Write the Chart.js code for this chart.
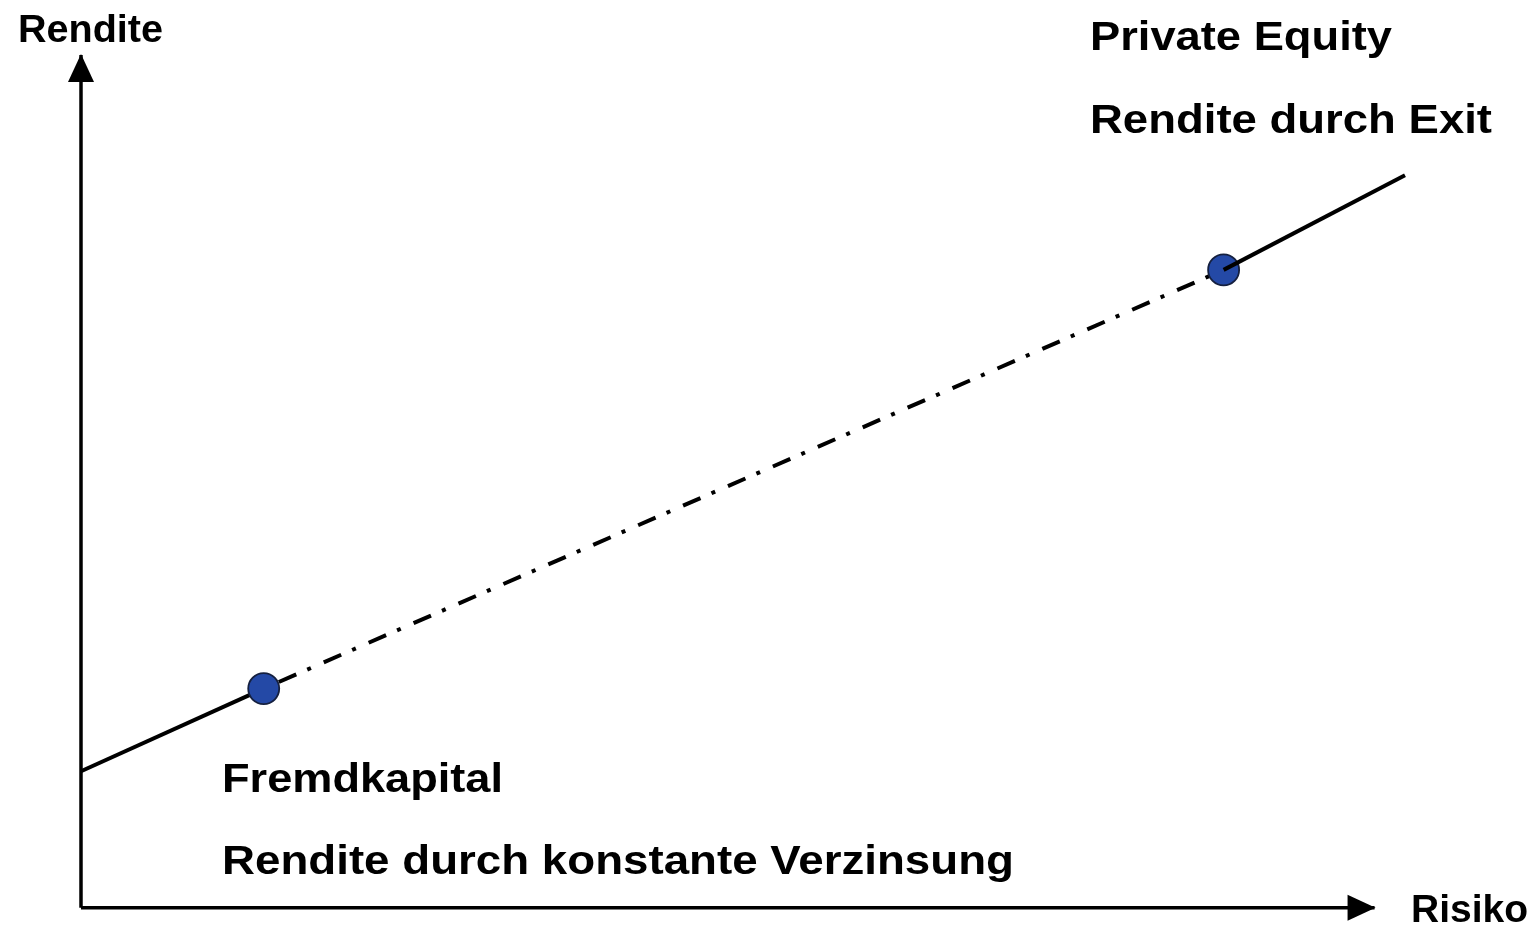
<!DOCTYPE html>
<html><head><meta charset="utf-8">
<script src="https://cdn.jsdelivr.net/npm/chart.js@4/dist/chart.umd.min.js"></script>
<style>html,body{margin:0;padding:0;background:#fff;} #wrap{width:1535px;height:925px;}</style>
</head><body><div id="wrap"><canvas id="c" width="1535" height="925"></canvas></div>
<script>
// ---- Data (Risiko = x, Rendite = y, arbitrary units 0..10) ----
const lineRisk   = [0, 1.38, 8.63, 10];      // start on y-axis, Fremdkapital, Private Equity, line end
const lineReturn = [1.6, 2.57, 7.48, 8.59];
const pointNames  = ['Fremdkapital', 'Private Equity'];
const pointRisk   = [1.38, 8.63];
const pointReturn = [2.57, 7.48];
const axisTitles  = ['Rendite', 'Risiko'];
const fkLabels = ['Fremdkapital', 'Rendite durch konstante Verzinsung'];
const peLabels = ['Private Equity', 'Rendite durch Exit'];
const xAxisEnd = 9.77, yAxisEnd = 10;

const pt = i => ({x: lineRisk[i], y: lineReturn[i]});

const arrowPlugin = {
  id: 'arrows',
  afterDatasetsDraw(chart) {
    const ctx = chart.ctx;
    chart.data.datasets.forEach((ds, i) => {
      if (!ds.arrow) return;
      const els = chart.getDatasetMeta(i).data;
      const a = els[els.length - 2], b = els[els.length - 1];
      const ang = Math.atan2(b.y - a.y, b.x - a.x);
      const L = 27, W = 13;
      ctx.save();
      ctx.translate(b.x, b.y);
      ctx.rotate(ang);
      ctx.beginPath();
      ctx.moveTo(1, 0);
      ctx.lineTo(-L, -W);
      ctx.lineTo(-L, W);
      ctx.closePath();
      ctx.fillStyle = '#000';
      ctx.fill();
      ctx.restore();
    });
  }
};

const textPlugin = {
  id: 'texts',
  afterDraw(chart, args, opts) {
    const ctx = chart.ctx;
    opts.items.forEach(it => {
      ctx.save();
      ctx.font = 'bold ' + it.size + 'px "Liberation Sans", Arial, sans-serif';
      ctx.fillStyle = '#000';
      ctx.textBaseline = 'alphabetic';
      ctx.textAlign = 'left';
      const w = ctx.measureText(it.text).width;
      const sx = it.width ? it.width / w : 1;
      ctx.translate(it.x, it.y);
      ctx.scale(sx, 1);
      ctx.fillText(it.text, 0, 0);
      ctx.restore();
    });
  }
};

const common = {showLine: true, borderColor: '#000', pointRadius: 0, clip: false, fill: false, tension: 0};

new Chart(document.getElementById('c'), {
  type: 'scatter',
  data: {
    datasets: [
      {...common, label: 'x-axis', data: [{x:0,y:0},{x:xAxisEnd,y:0}], borderWidth: 3.5, arrow: true, order: 5},
      {...common, label: 'y-axis', data: [{x:0,y:0},{x:0,y:yAxisEnd}], borderWidth: 3.5, arrow: true, order: 5},
      {...common, label: 'low', data: [pt(0), pt(1)], borderWidth: 4, order: 4},
      {...common, label: 'mid', data: [pt(1), pt(2)], borderWidth: 4, borderDash: [19,12,4,14], borderDashOffset: 32.5, order: 4},
      {label: 'Punkte', data: pointRisk.map((x, i) => ({x, y: pointReturn[i]})), showLine: false,
       pointRadius: 15.5, pointHoverRadius: 15.5, pointBackgroundColor: '#2449a6', pointBorderColor: '#15203f',
       pointBorderWidth: 1.8, clip: false, order: 2},
      {...common, label: 'high', data: [pt(2), pt(3)], borderWidth: 4, order: 1}
    ]
  },
  options: {
    responsive: false,
    animation: false,
    events: [],
    layout: {padding: {left: 81, right: 130, top: 55, bottom: 17}},
    scales: {
      x: {type: 'linear', min: 0, max: 10, display: false},
      y: {type: 'linear', min: 0, max: 10, display: false}
    },
    plugins: {
      legend: {display: false},
      tooltip: {enabled: false},
      texts: {items: [
        {text: axisTitles[0], x: 18, y: 42, size: 38, width: 145},
        {text: axisTitles[1], x: 1411, y: 922, size: 38, width: 117},
        {text: fkLabels[0], x: 222, y: 792, size: 41, width: 281},
        {text: fkLabels[1], x: 222, y: 874, size: 41, width: 792},
        {text: peLabels[0], x: 1090, y: 50, size: 41, width: 302},
        {text: peLabels[1], x: 1090, y: 133, size: 41, width: 402}
      ]}
    }
  },
  plugins: [arrowPlugin, textPlugin]
});
</script>
</body></html>
